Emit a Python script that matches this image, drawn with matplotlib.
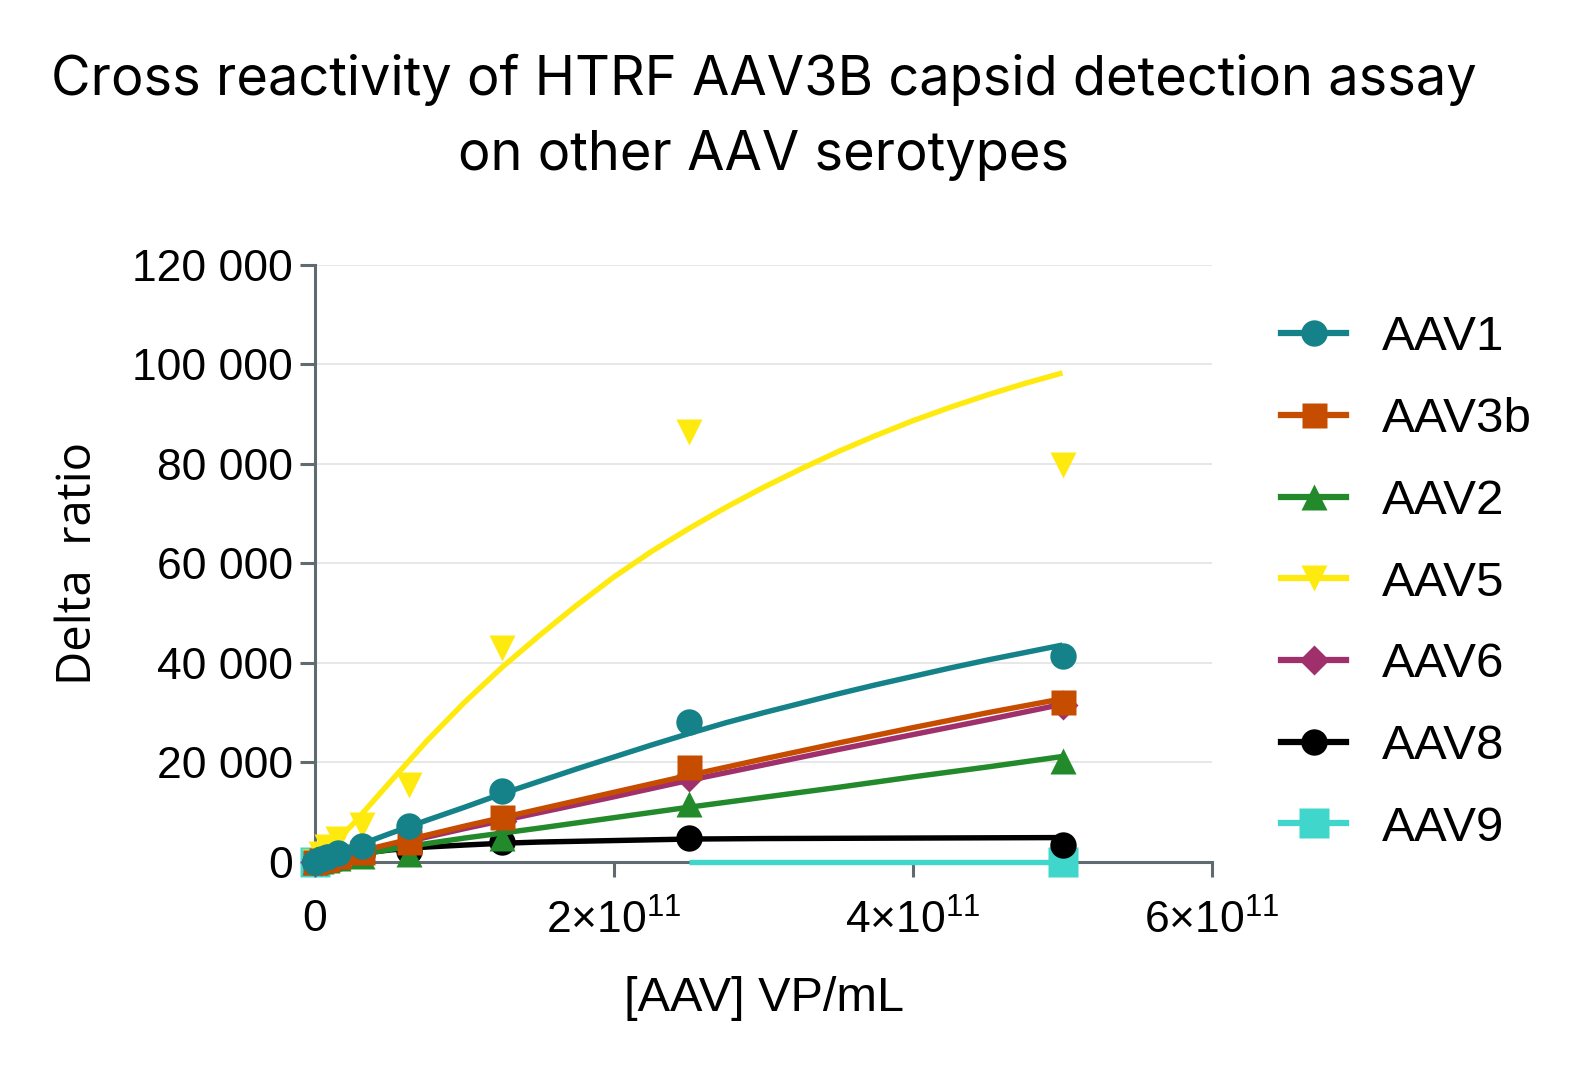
import numpy as np
import matplotlib.pyplot as plt

plt.rcParams['mathtext.fontset'] = 'custom'
plt.rcParams['mathtext.rm'] = 'Liberation Sans'
plt.rcParams['mathtext.it'] = 'Liberation Sans'

# serotypes, legend order
series = ['AAV1', 'AAV3b', 'AAV2', 'AAV5', 'AAV6', 'AAV8', 'AAV9']
colors = ['#15828a', '#c64c00', '#228a2b', '#ffea0f', '#a0306c', '#000000', '#40d6cc']
markers = ['o', 's', '^', 'v', 'D', 'o', 's']
msizes = [19, 18, 19, 19, 15, 19, 21]

# measured points (VP/mL -> delta ratio)
dose = [0, 3.9e9, 7.8e9, 1.56e10, 3.13e10, 6.25e10, 1.25e11, 2.5e11, 5e11]
aav1 = [0, 500, 900, 1800, 3300, 7300, 14300, 28200, 41400]
aav3b = [0, 300, 600, 1200, 2000, 4100, 9100, 19100, 32100]
aav2 = [0, 200, 400, 700, 1200, 1600, 4800, 11700, 20300]
aav5 = [0, 1500, 3000, 4600, 7400, 15500, 43000, 86500, 79800]
aav6 = [0, 250, 500, 1000, 1900, 3900, 8300, 17000, 31500]
aav8 = [0, 200, 400, 800, 1500, 2100, 4000, 4800, 3500]
dose_aav9 = [0, 5e11]
aav9 = [0, 0]

# fitted curves (every 0.25e11 VP/mL)
fit_x = [0, 0.25e11, 0.5e11, 0.75e11, 1e11, 1.25e11, 1.5e11, 1.75e11, 2e11, 2.25e11, 2.5e11,
         2.75e11, 3e11, 3.25e11, 3.5e11, 3.75e11, 4e11, 4.25e11, 4.5e11, 4.75e11, 5e11]
fit_aav1 = [0, 2900, 5700, 8400, 11000, 13700, 16200, 18700, 21100, 23500, 25800,
            28000, 30000, 31900, 33800, 35600, 37300, 39000, 40600, 42100, 43600]
fit_aav3b = [0, 1800, 3600, 5400, 7200, 8900, 10600, 12300, 14000, 15700, 17400,
             19050, 20700, 22300, 23900, 25450, 27000, 28500, 30000, 31400, 32800]
fit_aav2 = [0, 1250, 2500, 3700, 4800, 5800, 6800, 7850, 8900, 9950, 11000,
            12000, 13000, 14000, 15000, 16050, 17100, 18100, 19100, 20150, 21200]
fit_aav5 = [0, 7500, 16000, 24400, 32100, 39100, 45500, 51600, 57300, 62400, 67000,
            71300, 75300, 79000, 82500, 85700, 88700, 91400, 93900, 96200, 98300]
fit_aav6 = [0, 1650, 3300, 5000, 6700, 8300, 9900, 11500, 13100, 14750, 16400,
            17950, 19500, 21050, 22600, 24100, 25600, 27100, 28600, 30150, 31700]
fit_aav8 = [0, 1500, 2400, 3000, 3400, 3750, 4000, 4150, 4300, 4450, 4600,
            4650, 4700, 4725, 4750, 4775, 4800, 4825, 4850, 4875, 4900]
fit_x_aav9 = [2.5e11, 5e11]
fit_aav9 = [0, 0]

pts_x = [dose, dose, dose, dose, dose, dose, dose_aav9]
pts_y = [aav1, aav3b, aav2, aav5, aav6, aav8, aav9]
fits_x = [fit_x, fit_x, fit_x, fit_x, fit_x, fit_x, fit_x_aav9]
fits_y = [fit_aav1, fit_aav3b, fit_aav2, fit_aav5, fit_aav6, fit_aav8, fit_aav9]

y_ticks = [0, 20000, 40000, 60000, 80000, 100000, 120000]
y_labels = ['0', '20 000', '40 000', '60 000', '80 000', '100 000', '120 000']
x_ticks = [0, 2e11, 4e11, 6e11]
x_labels = ['0', r'$2{\times}10^{11}$', r'$4{\times}10^{11}$', r'$6{\times}10^{11}$']

axis_col = '#5f6b70'

fig = plt.figure(figsize=(15.73, 10.71), dpi=100)
ax = fig.add_axes([0.2003, 0.1952, 0.5702, 0.5574])

handles = []
n = len(series)
for i in range(n):
    z = 10 + (n - i)
    ax.plot(fits_x[i], fits_y[i], color=colors[i], lw=3.9, zorder=z,
            solid_capstyle='butt', solid_joinstyle='round', clip_on=False)
    ax.plot(pts_x[i], pts_y[i], ls='none', marker=markers[i], ms=msizes[i],
            color=colors[i], mec='none', zorder=z, clip_on=False)
    h, = ax.plot([], [], color=colors[i], lw=4.5, marker=markers[i],
                 ms=msizes[i], mec='none')
    handles.append(h)

ax.set_xlim(0, 6e11)
ax.set_ylim(0, 120000)
ax.set_xticks(x_ticks)
ax.set_xticklabels(x_labels)
ax.set_yticks(y_ticks)
ax.set_yticklabels(y_labels)

for s in ['top', 'right']:
    ax.spines[s].set_visible(False)
for s in ['left', 'bottom']:
    ax.spines[s].set_color(axis_col)
    ax.spines[s].set_linewidth(2.2)
ax.tick_params(axis='both', colors=axis_col, width=2.2, length=11,
               labelcolor='black', labelsize=32, pad=5)
for lab in ax.get_xticklabels() + ax.get_yticklabels():
    lab.set_fontfamily('Liberation Sans')
ax.tick_params(axis='x', pad=16)

ax.grid(axis='y', color='#e3e3e3', lw=1.2)
ax.set_axisbelow(True)

ax.set_xlabel('[AAV] VP/mL', fontsize=35, family='Liberation Sans', labelpad=24)
ax.set_ylabel('Delta  ratio', fontsize=34, family='Open Sans', labelpad=22)

fig.text(0.4854, 0.95, 'Cross reactivity of HTRF AAV3B capsid detection assay\non other AAV serotypes',
         ha='center', va='top', fontsize=39, family='Inter', linespacing=1.6)

ax.legend(handles, series, loc='upper left', bbox_to_anchor=(1.028, 0.99),
          frameon=False, prop={'family': 'Liberation Sans', 'size': 35.5},
          handlelength=1.3, handletextpad=0.74, labelspacing=0.745)

fig.savefig('out.png', dpi=100)
